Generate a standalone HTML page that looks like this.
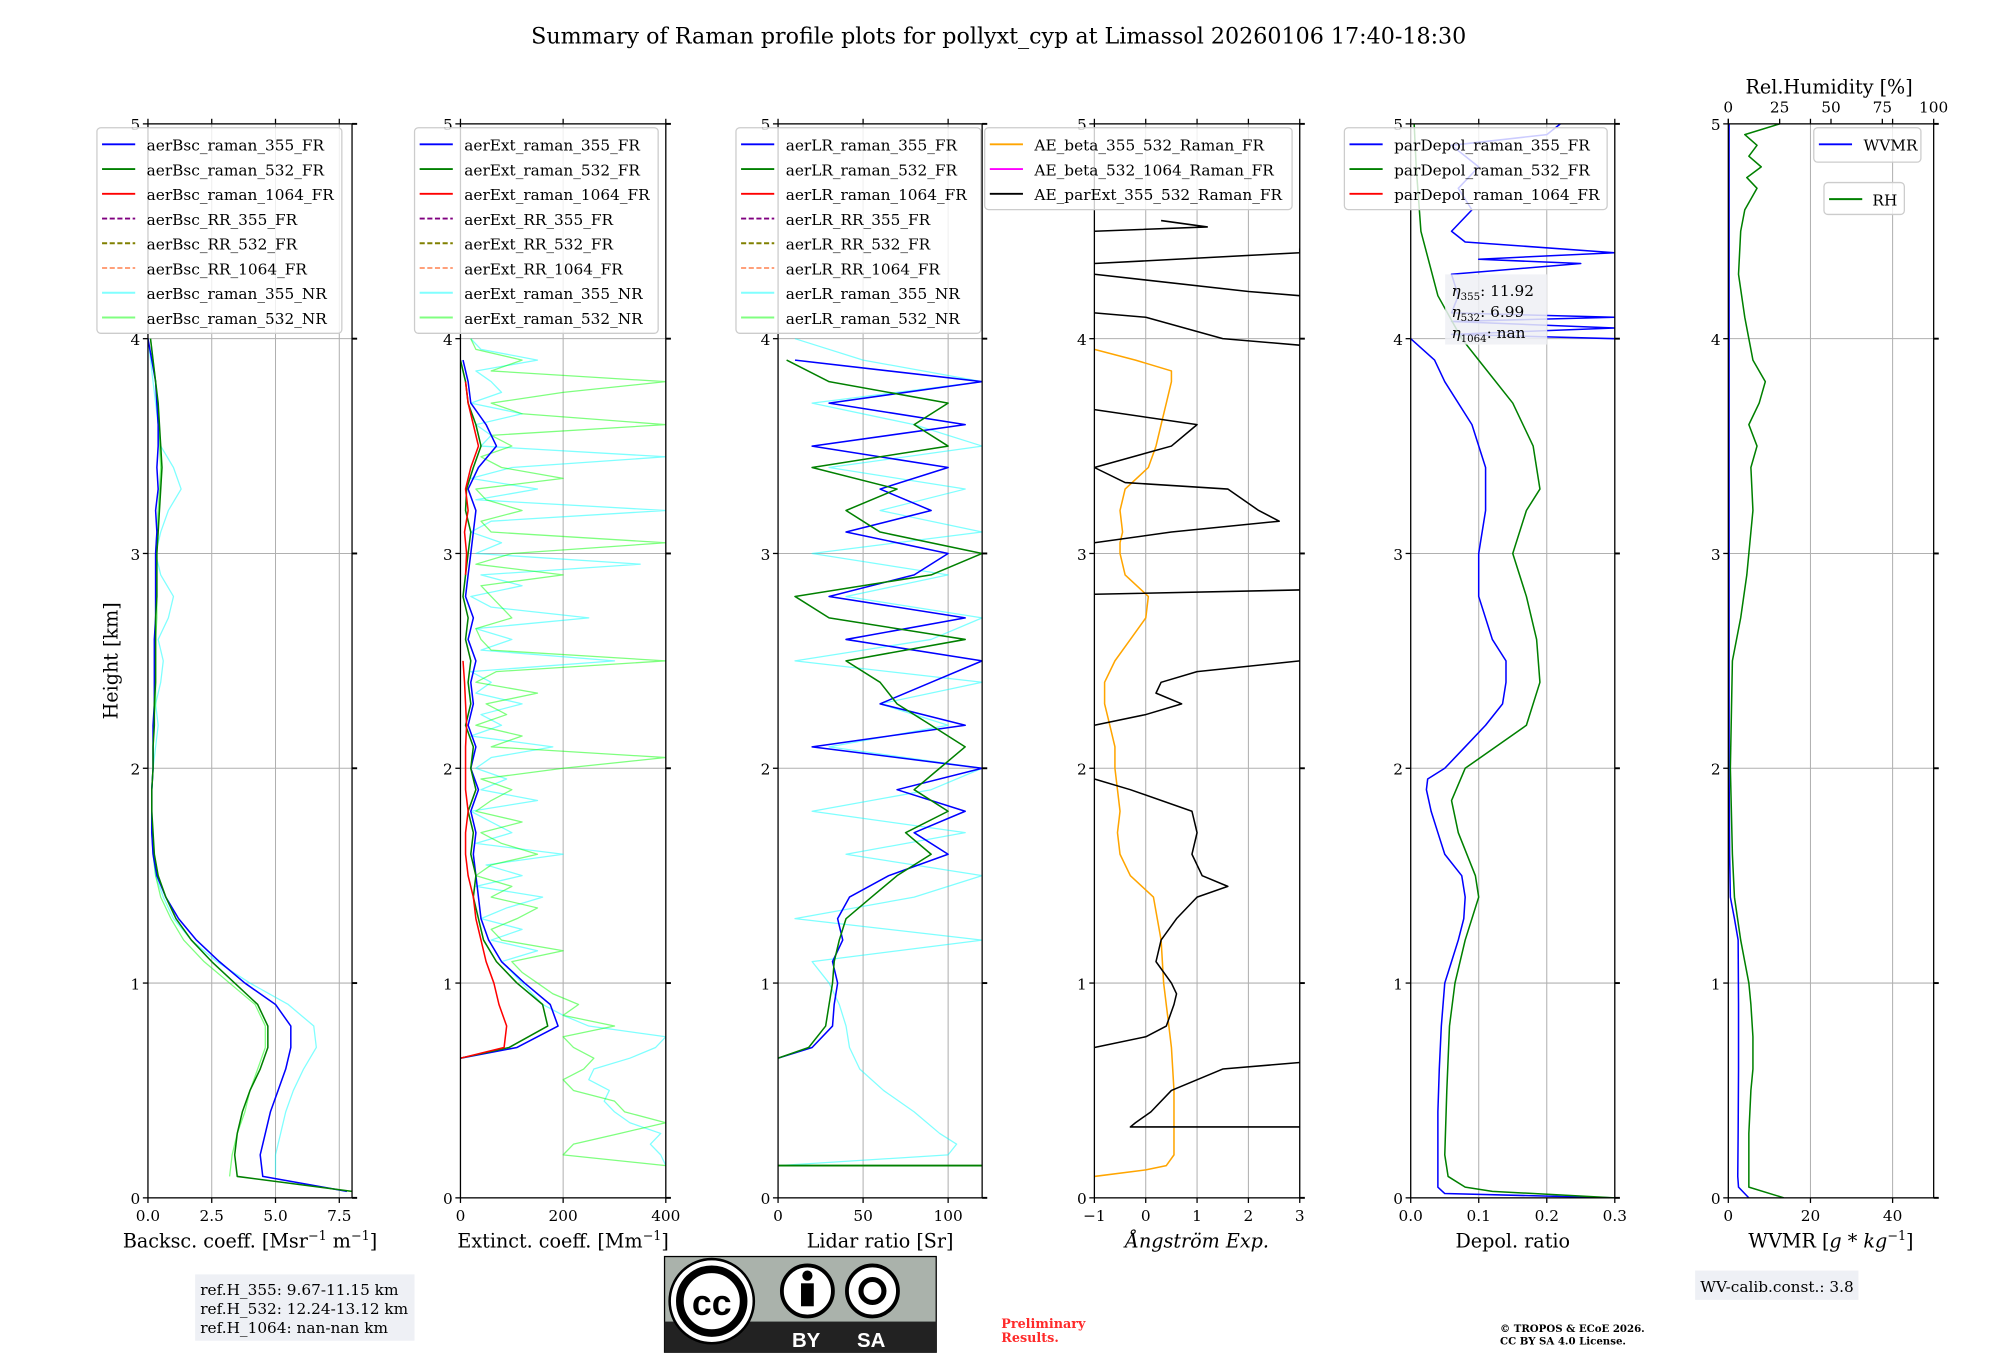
<!DOCTYPE html>
<html><head><meta charset="utf-8"><style>
html,body{margin:0;padding:0;background:#fff;}
svg{display:block;font-family:"DejaVu Serif","Liberation Serif",serif;}
</style></head><body>
<svg id="fig" width="2000" height="1360" viewBox="0 0 1568 1066" xmlns="http://www.w3.org/2000/svg">
<rect width="1568" height="1066" fill="#fff"/>
<text x="783" y="34" font-size="17.4" text-anchor="middle">Summary of Raman profile plots for pollyxt_cyp at Limassol 20260106 17:40-18:30</text>
<text x="92" y="518" font-size="15" text-anchor="middle" transform="rotate(-90 92 518)">Height [km]</text>
<g id="plots"></g>
<g id="footer">
<rect x="153" y="999" width="172" height="52" fill="#eef0f5"/>
<text font-size="12" x="157" y="1015">ref.H_355: 9.67-11.15 km</text>
<text font-size="12" x="157" y="1030">ref.H_532: 12.24-13.12 km</text>
<text font-size="12" x="157" y="1045">ref.H_1064: nan-nan km</text>
<g>
<rect x="521" y="985" width="213" height="75" fill="#aab2ab" stroke="#000" stroke-width="1"/>
<rect x="521" y="1036" width="213" height="24" fill="#222"/>
<circle cx="558" cy="1020" r="33" fill="#fff" stroke="#000" stroke-width="2"/>
<circle cx="558" cy="1020" r="25" fill="#fff" stroke="#000" stroke-width="6"/>
<text x="558" y="1031" font-size="28" font-weight="bold" text-anchor="middle" font-family="Liberation Sans, sans-serif">cc</text>
<circle cx="633" cy="1012" r="20" fill="#fff" stroke="#000" stroke-width="3"/>
<circle cx="633" cy="1000" r="4" fill="#000"/>
<rect x="628" y="1006" width="10" height="18" fill="#000"/>
<circle cx="684" cy="1012" r="20" fill="#fff" stroke="#000" stroke-width="3"/>
<circle cx="684" cy="1012" r="9" fill="none" stroke="#000" stroke-width="4"/>
<text x="632" y="1056" font-size="16" font-weight="bold" fill="#fff" text-anchor="middle" font-family="Liberation Sans, sans-serif">BY</text>
<text x="683" y="1056" font-size="16" font-weight="bold" fill="#fff" text-anchor="middle" font-family="Liberation Sans, sans-serif">SA</text>
</g>
<text x="785" y="1041" font-size="10" font-weight="bold" fill="#ff2a2a">Preliminary</text>
<text x="785" y="1052" font-size="10" font-weight="bold" fill="#ff2a2a">Results.</text>
<text x="1176" y="1044" font-size="8" font-weight="bold">© TROPOS &amp; ECoE 2026.</text>
<text x="1176" y="1054" font-size="8" font-weight="bold">CC BY SA 4.0 License.</text>
<rect x="1329" y="996" width="128" height="23" fill="#eef0f5"/>
<text x="1333" y="1013" font-size="12">WV-calib.const.: 3.8</text>
</g>
</svg>
<script>
// ---- data ----
const hGrid = [0.03,0.1,0.2,0.3,0.4,0.5,0.6,0.7,0.8,0.9,1.0,1.1,1.2,1.3,1.4,1.5,1.6,1.7,1.8,1.9,2.0,2.1,2.2,2.3,2.4,2.5,2.6,2.7,2.8,2.9,3.0,3.1,3.2,3.3,3.4,3.5,3.6,3.7,3.8,3.9,4.0,4.1,4.2,4.3,4.4,4.5,4.6,4.7,4.8,4.9,5.0];
const bsc355FR = [7.8,4.5,4.4,4.6,4.8,5.1,5.4,5.6,5.6,5.0,3.8,2.8,1.9,1.2,0.7,0.35,0.2,0.15,0.15,0.15,0.2,0.2,0.2,0.25,0.25,0.25,0.25,0.3,0.3,0.3,0.3,0.35,0.3,0.4,0.35,0.4,0.4,0.35,0.3,0.15,0.0,null,null,null,null,null,null,null,null,null,null];
const bsc532FR = [8.0,3.5,3.4,3.5,3.7,4.0,4.4,4.7,4.7,4.3,3.4,2.5,1.7,1.1,0.7,0.4,0.25,0.2,0.15,0.15,0.2,0.2,0.25,0.25,0.3,0.3,0.3,0.3,0.35,0.35,0.35,0.4,0.45,0.5,0.55,0.5,0.45,0.4,0.3,0.2,0.1,null,null,null,null,null,null,null,null,null,null];
const bsc355NR = [null,5.0,5.0,5.2,5.4,5.7,6.1,6.6,6.5,5.5,4.0,2.7,1.7,1.0,0.6,0.3,0.2,0.15,0.15,0.15,0.2,0.3,0.4,0.3,0.5,0.6,0.4,0.8,1.0,0.5,0.3,0.5,0.8,1.3,1.0,0.5,0.4,0.3,0.2,0.1,0.0,null,null,null,null,null,null,null,null,null,null];
const bsc532NR = [null,3.2,3.3,3.5,3.8,4.0,4.3,4.6,4.6,4.2,3.2,2.2,1.4,0.9,0.5,0.3,0.2,0.15,0.15,0.15,0.2,0.2,0.2,0.3,0.3,0.3,0.3,0.35,0.35,0.3,0.3,0.35,0.4,0.45,0.5,0.45,0.4,0.35,0.3,0.2,0.1,null,null,null,null,null,null,null,null,null,null];

const hExt = [0.65,0.7,0.8,0.9,1.0,1.1,1.2,1.3,1.4,1.5,1.6,1.7,1.8,1.9,2.0,2.1,2.2,2.3,2.4,2.5,2.6,2.7,2.8,2.9,3.0,3.1,3.2,3.3,3.4,3.5,3.6,3.7,3.8,3.9];
const ext355FR = [0,110,190,175,125,80,55,40,35,30,25,30,20,35,20,30,15,25,20,30,15,25,10,15,20,25,30,15,35,70,50,20,15,5];
const ext532FR = [0,95,170,160,110,70,45,35,25,30,20,25,15,30,20,25,10,20,15,20,10,15,5,10,15,20,10,12,25,40,30,15,10,0];
const ext1064FR = [0,85,90,75,65,50,40,30,25,15,10,10,15,10,10,10,12,10,8,5,null,null,null,10,12,8,15,10,20,35,25,15,10,null];
const hNoisy = [0.15,0.2,0.25,0.3,0.35,0.4,0.45,0.5,0.55,0.6,0.65,0.7,0.75,0.8,0.85,0.9,0.95,1.0,1.05,1.1,1.15,1.2,1.25,1.3,1.35,1.4,1.45,1.5,1.55,1.6,1.65,1.7,1.75,1.8,1.85,1.9,1.95,2.0,2.05,2.1,2.15,2.2,2.25,2.3,2.35,2.4,2.45,2.5,2.55,2.6,2.65,2.7,2.75,2.8,2.85,2.9,2.95,3.0,3.05,3.1,3.15,3.2,3.25,3.3,3.35,3.4,3.45,3.5,3.55,3.6,3.65,3.7,3.75,3.8,3.85,3.9,3.95,4.0];
const ext355NR = [400,390,370,390,330,300,280,290,250,260,330,380,400,250,200,160,140,120,100,80,150,60,120,40,90,160,30,120,50,200,30,100,60,20,150,40,90,30,60,180,20,80,40,120,30,60,20,300,40,100,30,250,60,20,120,40,350,30,80,20,60,400,30,150,20,100,400,40,60,30,120,20,80,60,30,150,40,20];
const ext532NR = [400,200,220,310,400,320,300,220,200,240,260,220,200,300,200,230,180,150,120,100,200,80,60,110,150,60,100,30,60,150,80,40,120,30,60,100,40,200,400,60,120,30,90,50,150,30,70,400,60,40,30,100,80,60,40,200,30,100,400,60,40,120,50,30,200,80,40,100,60,400,120,60,200,400,60,120,30,20];

const hLR = [0.65,0.7,0.8,0.9,1.0,1.1,1.2,1.3,1.4,1.5,1.6,1.7,1.8,1.9,2.0,2.1,2.2,2.3,2.4,2.5,2.6,2.7,2.8,2.9,3.0,3.1,3.2,3.3,3.4,3.5,3.6,3.7,3.8,3.9];
const lr355FR = [0,20,32,33,35,32,38,35,42,65,100,80,110,70,120,20,110,60,90,120,40,110,30,80,100,40,90,60,100,20,110,30,120,10];
const lr532FR = [0,18,28,30,32,33,36,40,55,70,90,75,100,80,95,110,90,70,60,40,110,30,10,90,120,60,40,70,20,100,80,100,30,5];
const lrNRH = [0.15,0.2,0.25,0.3,0.4,0.5,0.6,0.7,0.8,0.9,1.0,1.1,1.2,1.3,1.4,1.5,1.6,1.7,1.8,1.9,2.0,2.1,2.2,2.3,2.4,2.5,2.6,2.7,2.8,2.9,3.0,3.1,3.2,3.3,3.4,3.5,3.6,3.7,3.8,3.9,4.0];
const lr355NR = [0,100,105,95,80,62,48,42,40,36,30,20,120,10,80,120,40,110,20,90,120,30,100,60,120,10,90,120,40,100,20,120,60,110,30,120,80,20,120,50,10];

const hAE = [0.1,0.13,0.15,0.2,0.3,0.5,0.7,0.8,1.0,1.2,1.4,1.5,1.6,1.7,1.8,1.9,2.0,2.1,2.2,2.3,2.4,2.5,2.6,2.7,2.8,2.9,3.0,3.05,3.1,3.2,3.3,3.4,3.5,3.6,3.7,3.8,3.85,3.9,3.95];
const aeBeta355532 = [-1,0.0,0.4,0.55,0.55,0.55,0.5,0.45,0.35,0.3,0.15,-0.3,-0.5,-0.55,-0.5,-0.55,-0.6,-0.6,-0.7,-0.8,-0.8,-0.6,-0.3,0,0.05,-0.4,-0.5,-0.5,-0.45,-0.5,-0.4,0.05,0.2,0.3,0.4,0.5,0.5,-0.2,-1];
const hAEx = [0.33,0.33,0.35,0.4,0.5,0.6,0.63,null,0.7,0.75,0.8,0.9,0.95,1.0,1.1,1.2,1.3,1.4,1.45,1.5,1.6,1.7,1.8,1.9,1.95,null,2.2,2.25,2.3,2.35,2.4,2.45,2.5,null,2.81,2.83,null,3.05,3.1,3.15,3.2,3.3,3.33,3.4,null,3.4,3.5,3.6,3.67,null,3.97,4.0,4.1,4.12,null,4.2,4.22,4.3,null,4.35,4.4,4.42,null,4.5,4.52,4.55];
const aeParExt355532 = [3,-0.3,-0.2,0.1,0.5,1.5,3,null,-1,0,0.4,0.55,0.6,0.5,0.2,0.3,0.6,1.0,1.6,1.1,0.9,1.0,0.9,-0.3,-1,null,-1,0,0.7,0.2,0.3,1.0,3,null,-1,3,null,-1,0.5,2.6,2.2,1.6,-0.4,-1,null,-1,0.5,1.0,-1,null,3,1.5,0,-1,null,3,2,-1,null,-1,3,3,null,-1,1.2,0.3];

const hDep = [0.0,0.02,0.05,0.1,0.2,0.4,0.6,0.8,1.0,1.1,1.2,1.3,1.4,1.5,1.6,1.7,1.8,1.9,1.95,2.0,2.1,2.2,2.3,2.4,2.5,2.6,2.8,3.0,3.2,3.4,3.6,3.8,3.9,4.0];
const dep355FR = [0.3,0.05,0.04,0.04,0.04,0.04,0.042,0.045,0.05,0.06,0.07,0.078,0.08,0.075,0.05,0.04,0.03,0.023,0.025,0.05,0.08,0.11,0.135,0.14,0.14,0.12,0.1,0.1,0.11,0.11,0.09,0.05,0.035,0.0];
const hDep2 = [0.0,0.03,0.05,0.1,0.2,0.5,0.8,1.0,1.2,1.4,1.5,1.7,1.85,2.0,2.2,2.4,2.6,2.8,3.0,3.2,3.3,3.5,3.7,3.9,4.0,4.2,4.5,4.8,5.0];
const dep532FR = [0.3,0.12,0.08,0.055,0.05,0.053,0.057,0.065,0.08,0.1,0.095,0.07,0.06,0.08,0.17,0.19,0.185,0.17,0.15,0.17,0.19,0.18,0.15,0.1,0.075,0.04,0.015,0.008,0.005];
const hDepHi = [4.0,4.02,4.05,4.08,4.1,4.12,4.2,4.3,4.35,4.37,4.4,4.45,4.5,4.6,4.7,4.8,4.9,4.95,5.0];
const dep355Hi = [0.3,0.06,0.3,0.06,0.3,0.06,0.07,0.06,0.25,0.1,0.3,0.08,0.06,0.09,0.07,0.1,0.06,0.2,0.22];

const hWV = [0.0,0.05,0.1,0.3,0.6,0.9,1.2,1.3,1.4,1.6,2.0,3.0,4.0,5.0];
const wvmr = [5,2.5,2.3,2.4,2.5,2.5,2.4,1.5,0.5,0.3,0.2,0.2,0.2,0.2];
const hRH = [0.0,0.05,0.1,0.3,0.5,0.6,0.75,0.9,1.0,1.1,1.2,1.4,1.6,2.0,2.5,2.7,2.9,3.0,3.2,3.4,3.5,3.6,3.7,3.8,3.9,4.0,4.1,4.3,4.5,4.6,4.7,4.75,4.8,4.85,4.9,4.95,5.0];
const rh = [27,10,10,10,11,12,12,11,10,8,6,3,2,1,2,6,9,10,12,11,14,10,15,18,12,10,8,5,6,8,14,9,16,10,14,8,25];

// ---- drawing ----
const NS = 'http://www.w3.org/2000/svg';
const root = document.getElementById('plots');
const Y0 = 939, Y1 = 97;
function yS(h){ return Y0 - (h/5)*(Y0-Y1); }
function mk(tag, attrs, parent){ const e=document.createElementNS(NS,tag); for(const k in attrs) e.setAttribute(k,attrs[k]); (parent||root).appendChild(e); return e; }
function panel(name, px0, px1, xmin, xmax, ticks, tickLabels, xlabel){
  const g = mk('g',{});
  
  
  const xS = v => px0 + (v-xmin)/(xmax-xmin)*(px1-px0);
  ticks.forEach((t,i)=>{
    const x=xS(t);
    mk('line',{x1:x,x2:x,y1:Y0,y2:Y1,stroke:'#b0b0b0','stroke-width':0.8},g);
    mk('line',{x1:x,x2:x,y1:Y0,y2:Y0+4,stroke:'#000','stroke-width':1},g);
    mk('line',{x1:x,x2:x,y1:Y1,y2:Y1-4,stroke:'#000','stroke-width':1},g);
    const tl = mk('text',{x:x,y:Y0+18,'font-size':12,'text-anchor':'middle'},g);
    
    
    tl.textContent = tickLabels[i];
  });
  for(let k=0;k<=5;k++){
    const y=yS(k);
    mk('line',{x1:px0,x2:px1,y1:y,y2:y,stroke:'#b0b0b0','stroke-width':0.8},g);
    mk('line',{x1:px0-4,x2:px0,y1:y,y2:y,stroke:'#000','stroke-width':1},g);
    mk('line',{x1:px1,x2:px1+4,y1:y,y2:y,stroke:'#000','stroke-width':1.5},g);
    const yl = mk('text',{x:px0-6,y:y+5,'font-size':12,'text-anchor':'end'},g);
    
    
    yl.textContent = String(k);
  }
  const xl = mk('text',{x:(px0+px1)/2,y:978,'font-size':15,'text-anchor':'middle'},g);
  
  
  xl.innerHTML = xlabel;
  const clipId = name+'-clip';
  const cp = mk('clipPath',{id:clipId},g);
  mk('rect',{x:px0,y:Y1,width:px1-px0,height:Y0-Y1},cp);
  const lines = mk('g',{'clip-path':'url(#'+clipId+')'},g);
  return {g, lines, xS, px0, px1};
}
function series(p, hs, vs, color, width, name, opacity){
  let d='', pen=false;
  for(let i=0;i<hs.length;i++){
    if(hs[i]===null || vs[i]===null || vs[i]===undefined){ pen=false; continue; }
    d += (pen?'L':'M') + p.xS(vs[i]).toFixed(1)+' '+yS(hs[i]).toFixed(1)+' ';
    pen=true;
  }
  const e = mk('path',{d:d,fill:'none',stroke:color,'stroke-width':width,'stroke-opacity':opacity||1,'stroke-linejoin':'round'},p.lines);
  
  
}
function frame(p){
  mk('rect',{x:p.px0,y:Y1,width:p.px1-p.px0,height:Y0-Y1,fill:'none',stroke:'#000','stroke-width':1},p.g);
}
function legend(p, x, y, w, entries, name){
  const lg = mk('g',{},p.g);
  
  
  const hgt = entries.length*19.4+6;
  mk('rect',{x:x,y:y,width:w,height:hgt,rx:3,fill:'#fff','fill-opacity':0.8,stroke:'#ccc','stroke-width':1},lg);
  entries.forEach((en,i)=>{
    const yy = y+13+i*19.4;
    mk('line',{x1:x+4,x2:x+30,y1:yy,y2:yy,stroke:en[1],'stroke-width':1.5,'stroke-dasharray':en[2]?'4 2':'none'},lg);
    const t = mk('text',{x:x+39,y:yy+5,'font-size':12},lg);
    
    
    t.textContent = en[0];
  });
}
const CY='#00ffff', LG='#00ff00';
// Panel 1
let p = panel('backscatter-panel',116,276,0,8,[0,2.5,5,7.5],['0.0','2.5','5.0','7.5'],'Backsc. coeff. [Msr<tspan dy="-6" font-size="10">−1</tspan><tspan dy="6"> m</tspan><tspan dy="-6" font-size="10">−1</tspan><tspan dy="6">]</tspan>');
series(p,hGrid,bsc355NR,CY,1,'bsc-355-nr',0.5);
series(p,hGrid,bsc532NR,LG,1,'bsc-532-nr',0.5);
series(p,hGrid,bsc355FR,'#0000ff',1.2,'bsc-355-fr');
series(p,hGrid,bsc532FR,'#008000',1.2,'bsc-532-fr');
frame(p);
const legEntries = (pre)=>[[pre+'_raman_355_FR','#0000ff'],[pre+'_raman_532_FR','#008000'],[pre+'_raman_1064_FR','#ff0000'],[pre+'_RR_355_FR','#800080',1],[pre+'_RR_532_FR','#808000',1],[pre+'_RR_1064_FR','#ffa07a',1],[pre+'_raman_355_NR','#80ffff'],[pre+'_raman_532_NR','#80ff80']];
legend(p,76,100,192,legEntries('aerBsc'),'backscatter-legend');
// Panel 2
p = panel('extinction-panel',361,522,0,400,[0,200,400],['0','200','400'],'Extinct. coeff. [Mm<tspan dy="-6" font-size="10">−1</tspan><tspan dy="6">]</tspan>');
series(p,hNoisy,ext355NR,CY,1,'ext-355-nr',0.5);
series(p,hNoisy,ext532NR,LG,1,'ext-532-nr',0.5);
series(p,hExt,ext355FR,'#0000ff',1.2,'ext-355-fr');
series(p,hExt,ext532FR,'#008000',1.2,'ext-532-fr');
series(p,hExt,ext1064FR,'#ff0000',1.2,'ext-1064-fr');
frame(p);
legend(p,325,100,191,legEntries('aerExt'),'extinction-legend');
// Panel 3
p = panel('lidar-ratio-panel',610,770,0,120,[0,50,100],['0','50','100'],'Lidar ratio [Sr]');
series(p,lrNRH,lr355NR,CY,1,'lr-355-nr',0.5);
series(p,[0.15,0.15],[0,120],'#008000',1.5,'lr-532-nr-floor');
series(p,hLR,lr355FR,'#0000ff',1.2,'lr-355-fr');
series(p,hLR,lr532FR,'#008000',1.2,'lr-532-fr');
frame(p);
legend(p,577,100,192,legEntries('aerLR'),'lidar-ratio-legend');
// Panel 4
p = panel('angstrom-panel',858,1019,-1,3,[-1,0,1,2,3],['−1','0','1','2','3'],'<tspan font-style="italic">Ångström Exp.</tspan>');
series(p,hAE,aeBeta355532,'#ffa500',1.2,'ae-beta-355-532');
series(p,hAEx,aeParExt355532,'#000',1.2,'ae-parext-355-532');
frame(p);
legend(p,772,100,241,[['AE_beta_355_532_Raman_FR','#ffa500'],['AE_beta_532_1064_Raman_FR','#ff00ff'],['AE_parExt_355_532_Raman_FR','#000']],'angstrom-legend');
// Panel 5
p = panel('depol-panel',1106,1266,0,0.3,[0,0.1,0.2,0.3],['0.0','0.1','0.2','0.3'],'Depol. ratio');
series(p,hDep,dep355FR,'#0000ff',1.2,'depol-355-fr');
series(p,hDepHi,dep355Hi,'#0000ff',1.2,'depol-355-fr-upper');
series(p,hDep2,dep532FR,'#008000',1.2,'depol-532-fr');
frame(p);
legend(p,1054,100,206,[['parDepol_raman_355_FR','#0000ff'],['parDepol_raman_532_FR','#008000'],['parDepol_raman_1064_FR','#ff0000']],'depol-legend');
const eb = mk('g',{},p.g);


mk('rect',{x:1133,y:215,width:80,height:55,fill:'#eef0f5','fill-opacity':0.85},eb);
[['355','11.92'],['532','6.99'],['1064','nan']].forEach((r,i)=>{
  const t = mk('text',{x:1138,y:232+i*16.5,'font-size':12},eb);
  
  
  t.innerHTML = '<tspan font-style="italic">η</tspan><tspan font-size="8" dy="3">'+r[0]+'</tspan><tspan dy="-3">: '+r[1]+'</tspan>';
});
// Panel 6
p = panel('wvmr-panel',1355,1516,0,50,[0,20,40],['0','20','40'],'WVMR [<tspan font-style="italic">g</tspan> * <tspan font-style="italic">kg</tspan><tspan dy="-6" font-size="10">−1</tspan><tspan dy="6">]</tspan>');
series(p,hWV,wvmr,'#0000ff',1.2,'wvmr-line');
const pRH = {lines:p.lines, xS: v=>1355+v/100*161};
series(pRH,hRH,rh,'#008000',1.2,'rh-line');
frame(p);
[0,25,50,75,100].forEach(t=>{
  const x=pRH.xS(t);
  mk('line',{x1:x,x2:x,y1:Y1,y2:Y1-4,stroke:'#000','stroke-width':1},p.g);
  const tl = mk('text',{x:x,y:Y1-9,'font-size':12,'text-anchor':'middle'},p.g);
  
  
  tl.textContent=String(t);
});
const rht = mk('text',{x:1434,y:73,'font-size':15,'text-anchor':'middle'},p.g);


rht.textContent='Rel.Humidity [%]';
const lw = mk('g',{},p.g);


mk('rect',{x:1422,y:100,width:84,height:27,rx:3,fill:'#fff','fill-opacity':0.8,stroke:'#ccc'},lw);
mk('line',{x1:1426,x2:1452,y1:113,y2:113,stroke:'#0000ff','stroke-width':1.5},lw);
const tw = mk('text',{x:1461,y:118,'font-size':12},lw); tw.textContent='WVMR';
const lr = mk('g',{},p.g);


mk('rect',{x:1430,y:143,width:63,height:25,rx:3,fill:'#fff','fill-opacity':0.8,stroke:'#ccc'},lr);
mk('line',{x1:1434,x2:1460,y1:156,y2:156,stroke:'#008000','stroke-width':1.5},lr);
const tr = mk('text',{x:1468,y:161,'font-size':12},lr); tr.textContent='RH';
</script>
</body></html>
